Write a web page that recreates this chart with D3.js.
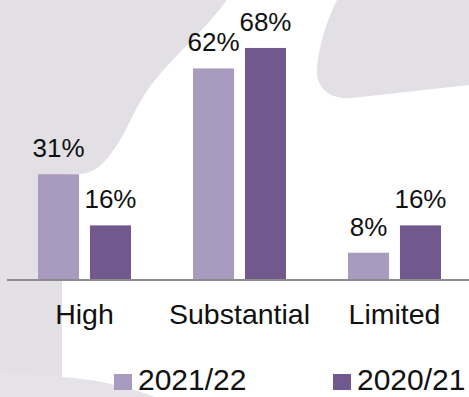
<!DOCTYPE html>
<html><head><meta charset="utf-8">
<script src="https://cdn.jsdelivr.net/npm/d3@7"></script>
<style>html,body{margin:0;padding:0;background:#fff;}svg{display:block;font-family:"Liberation Sans",Arial,sans-serif;}</style>
</head><body><div id="chart"></div>
<script>
const categories = ["High", "Substantial", "Limited"];
const seriesNames = ["2021/22", "2020/21"];
const values2122 = [31, 62, 8];
const values2021 = [16, 68, 16];
const colors = ["#a99bbf", "#71598e"];

const W = 469, H = 397;
const svg = d3.select("#chart").append("svg").attr("width", W).attr("height", H);

// decorative background
const gray = "#e2e0e5";
svg.append("path").attr("fill", gray)
  .attr("d", "M0,0 L227,0 C205,30 175,55 155,80 C135,105 128,130 115,148 C105,162 98,172 80,174 L62,174 L62,397 L0,397 Z");
svg.append("path").attr("fill", "#e5e3e8")
  .attr("d", "M0,372 L62,377 C95,379 125,386 155,397 L0,397 Z");
svg.append("path").attr("fill", gray)
  .attr("d", "M337,0 L469,0 L469,85 L352,98 C330,100 315,88 317,67 C319,45 327,20 337,0 Z");

const x0 = d3.scaleBand().domain(categories).range([7, 472]).paddingInner(0.4).paddingOuter(0.2);
const x1 = d3.scaleBand().domain(seriesNames).range([0, x0.bandwidth()]).paddingInner(0.21);
const y = d3.scaleLinear().domain([0, 80]).range([280, 7]);

const data = categories.map((c, i) => ({cat: c, vals: [values2122[i], values2021[i]]}));

const g = svg.selectAll("g.grp").data(data).enter().append("g")
  .attr("transform", d => `translate(${x0(d.cat)},0)`);
const bars = g.selectAll("g.b").data(d => d.vals.map((v, j) => ({s: seriesNames[j], v, j}))).enter().append("g");
bars.append("rect")
  .attr("x", d => x1(d.s)).attr("width", x1.bandwidth())
  .attr("y", d => y(d.v)).attr("height", d => y(0) - y(d.v))
  .attr("fill", d => colors[d.j]);
bars.append("text")
  .attr("x", d => x1(d.s) + x1.bandwidth() / 2)
  .attr("y", d => y(d.v) - 17)
  .attr("text-anchor", "middle").attr("font-size", 26).attr("fill", "#111")
  .text(d => d.v + "%");

const ax = svg.append("g").attr("transform", "translate(0,280)")
  .call(d3.axisBottom(x0).tickSize(0).tickPadding(24));
ax.select(".domain").attr("stroke", "#8c8c8c").attr("stroke-width", 2).attr("d", "M7,0H469");
ax.selectAll("text").attr("font-size", 28.5).attr("fill", "#111").attr("font-family", "Liberation Sans, Arial, sans-serif");

const legX = [114, 333];
const leg = svg.selectAll("g.leg").data(seriesNames).enter().append("g");
leg.append("rect").attr("x", (d, i) => legX[i]).attr("y", 374).attr("width", 18).attr("height", 16).attr("fill", (d, i) => colors[i]);
leg.append("text").attr("x", (d, i) => legX[i] + 24).attr("y", 390).attr("font-size", 30).attr("fill", "#111").text(d => d);
</script></body></html>
